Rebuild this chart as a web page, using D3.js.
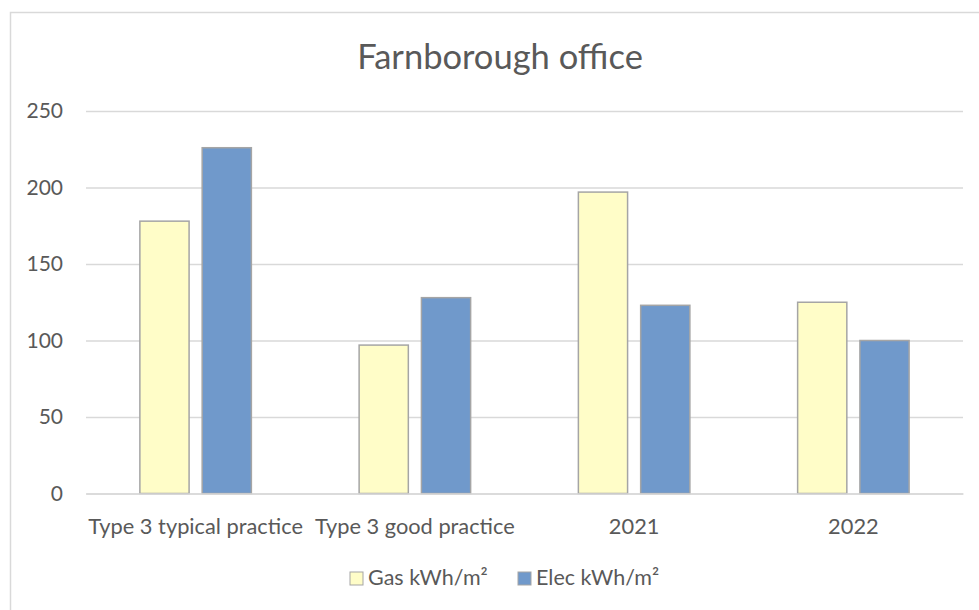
<!DOCTYPE html>
<html>
<head>
<meta charset="utf-8">
<script src="https://cdn.jsdelivr.net/npm/d3@7"></script>
<style>
  html, body { margin: 0; padding: 0; background: #fff; }
  svg { display: block; font-family: Lato, "Open Sans", sans-serif; }
</style>
</head>
<body>
<div id="chart"></div>
<script>
(function(){
  'use strict';

  // chart data
  var categories = ['Type 3 typical practice', 'Type 3 good practice', '2021', '2022'];
  var seriesNames = ['Gas kWh/m\u00b2', 'Elec kWh/m\u00b2'];
  var gasValues = [178, 97, 197, 125];
  var elecValues = [226, 128, 123, 100];
  var yTicks = [0, 50, 100, 150, 200, 250];
  var titleText = 'Farnborough office';

  var colors = ['#FFFDC8', '#7099CB'];
  var textColor = '#595959';

  var width = 979, height = 610;
  var plot = { left: 86, right: 963, top: 111, bottom: 493.5 };

  var svg = d3.select('#chart').append('svg')
    .attr('width', width)
    .attr('height', height);

  // chart area border (runs off the right and bottom like the original)
  svg.append('rect')
    .attr('x', 10.5).attr('y', 12.5)
    .attr('width', 1000).attr('height', 700)
    .attr('fill', '#fff')
    .attr('stroke', '#D9D9D9')
    .attr('stroke-width', 1.5);

  svg.append('text')
    .attr('x', 500).attr('y', 69)
    .attr('text-anchor', 'middle')
    .attr('fill', textColor)
    .style('font-size', '34.5px')
    .text(titleText);

  var y = d3.scaleLinear()
    .domain([0, 250])
    .range([plot.bottom, plot.top]);

  var x0 = d3.scaleBand()
    .domain(categories)
    .range([plot.left, plot.right])
    .padding(0);

  var groupW = 111.5;
  var x1 = d3.scaleBand()
    .domain(seriesNames)
    .range([(x0.bandwidth() - groupW) / 2, (x0.bandwidth() + groupW) / 2])
    .paddingInner(0.21);

  // gridlines + y labels via axis
  var yAxis = svg.append('g')
    .attr('transform', 'translate(' + plot.left + ',0)')
    .call(d3.axisLeft(y)
      .tickValues(yTicks)
      .tickSize(-(plot.right - plot.left))
      .tickPadding(23));

  yAxis.select('.domain').remove();
  yAxis.selectAll('.tick line')
    .attr('stroke', '#D9D9D9')
    .attr('stroke-width', 1.5);
  yAxis.selectAll('.tick text')
    .attr('fill', textColor)
    .style('font-size', '21px')
    .style('font-family', 'Lato, "Open Sans", sans-serif');

  // bars
  var rows = categories.map(function(c, i) {
    return { cat: c, vals: [gasValues[i], elecValues[i]] };
  });

  var groups = svg.selectAll('g.group')
    .data(rows).enter()
    .append('g')
    .attr('class', 'group')
    .attr('transform', function(d) { return 'translate(' + x0(d.cat) + ',0)'; });

  groups.selectAll('rect')
    .data(function(d) {
      return d.vals.map(function(v, j) { return { key: seriesNames[j], value: v, idx: j }; });
    }).enter()
    .append('rect')
    .attr('x', function(d) { return x1(d.key); })
    .attr('y', function(d) { return y(d.value); })
    .attr('width', x1.bandwidth())
    .attr('height', function(d) { return y(0) - y(d.value); })
    .attr('fill', function(d) { return colors[d.idx]; })
    .attr('stroke', '#A5A5A5')
    .attr('stroke-width', 1.5);

  // baseline axis
  var xAxis = svg.append('g')
    .attr('transform', 'translate(0,' + plot.bottom + ')')
    .call(d3.axisBottom(x0).tickSize(0).tickPadding(25));
  xAxis.select('.domain')
    .attr('stroke', '#D9D9D9')
    .attr('stroke-width', 1.5);
  xAxis.selectAll('.tick text')
    .attr('fill', textColor)
    .style('font-size', '21.8px')
    .style('font-family', 'Lato, "Open Sans", sans-serif');

  // legend
  var legendX = [350, 518];
  var legend = svg.selectAll('g.legend')
    .data(seriesNames).enter()
    .append('g')
    .attr('class', 'legend')
    .attr('transform', function(d, i) { return 'translate(' + legendX[i] + ',572)'; });

  legend.append('rect')
    .attr('width', 13).attr('height', 13)
    .attr('fill', function(d, i) { return colors[i]; })
    .attr('stroke', '#A5A5A5')
    .attr('stroke-width', 1);

  legend.append('text')
    .attr('x', 18).attr('y', 13)
    .attr('fill', textColor)
    .style('font-size', '21.5px')
    .text(function(d) { return d; });

})();
</script>
</body>
</html>
